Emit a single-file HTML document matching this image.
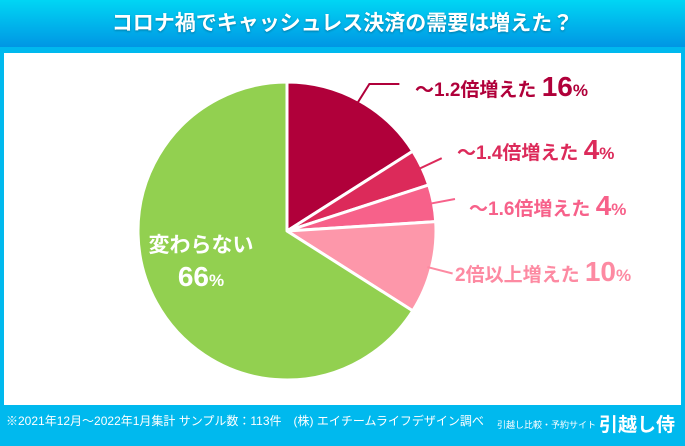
<!DOCTYPE html>
<html><head><meta charset="utf-8"><style>
body{margin:0;width:685px;height:446px;overflow:hidden;font-family:"Liberation Sans","Noto Sans CJK JP",sans-serif;}
#wrap{position:relative;width:685px;height:446px;background:#00b9ee;}
#hdr{position:absolute;left:0;top:0;width:685px;height:47px;background:linear-gradient(#00d6f4,#0096e4);color:#fff;font-weight:bold;font-size:21px;text-align:center;line-height:47px;text-shadow:0 1px 2px rgba(0,0,0,.3);}
#panel{position:absolute;left:4px;top:53px;width:677px;height:352px;background:#fff;}
#foot{position:absolute;left:6px;top:412px;color:#fff;font-size:12px;white-space:nowrap;}
#brand{position:absolute;left:497px;top:410px;color:#fff;font-size:9px;white-space:nowrap;}
#brand b{font-size:19px;margin-left:3px;vertical-align:-3px;}
</style></head><body>
<div id="wrap">
<div id="hdr">コロナ禍でキャッシュレス決済の需要は増えた？</div>
<div id="panel"></div>
<svg id="pie" width="685" height="446" style="position:absolute;left:0;top:0"></svg>
<div id="foot">※2021年12月～2022年1月集計 サンプル数：113件　(株) エイチームライフデザイン調べ</div>
<div id="brand">引越し比較・予約サイト<b>引越し侍</b></div>
</div>
<script>
const categories=["～1.2倍増えた","～1.4倍増えた","～1.6倍増えた","2倍以上増えた","変わらない"];
const values=[16,4,4,10,66];
const colors=["#b0003a","#dc2a5a","#f7618a","#fd97aa","#92d050"];
const labelColors=["#b0003a","#dc2a5a","#f7618a","#fd8aa2","#fff"];
const NS="http://www.w3.org/2000/svg";
const svg=document.getElementById('pie');
const cx=287,cy=231,r=149;
const total=values.reduce((a,b)=>a+b,0);
function pt(a,rr){return [cx+rr*Math.sin(a),cy-rr*Math.cos(a)];}
let acc=0;
const labelPos=[[415,87],[457,150],[469,206],[455,272]];
values.forEach((v,i)=>{
  const a0=acc/total*2*Math.PI;acc+=v;const a1=acc/total*2*Math.PI;
  const p0=pt(a0,r),p1=pt(a1,r);
  const path=document.createElementNS(NS,'path');
  path.setAttribute('d',`M${cx},${cy}L${p0[0]},${p0[1]}A${r},${r} 0 ${a1-a0>Math.PI?1:0} 1 ${p1[0]},${p1[1]}Z`);
  path.setAttribute('fill',colors[i]);path.setAttribute('stroke','#fff');path.setAttribute('stroke-width','3');path.setAttribute('stroke-linejoin','round');
  
  
  svg.appendChild(path);
  const am=(a0+a1)/2;
  if(i<4){
    const lp=labelPos[i];const e=pt(am,r-4),o=pt(am,r+22);
    const ln=document.createElementNS(NS,'polyline');
    const lx=i==0?o[0]+20:o[0]+8;
    ln.setAttribute('points',`${e[0]},${e[1]} ${o[0]},${i==0?lp[1]-3:o[1]} ${i==0?lx+10:o[0]},${i==0?lp[1]-3:o[1]}`);
    ln.setAttribute('fill','none');ln.setAttribute('stroke',labelColors[i]);ln.setAttribute('stroke-width','2');
    
    
    svg.appendChild(ln);
    const t=document.createElementNS(NS,'text');
    t.setAttribute('x',lp[0]);t.setAttribute('y',lp[1]+9);t.setAttribute('fill',labelColors[i]);
    t.setAttribute('font-weight','bold');t.setAttribute('font-size','19');
    
    
    t.innerHTML=categories[i]+' <tspan font-size="28">'+values[i]+'</tspan><tspan font-size="17">%</tspan>';
    svg.appendChild(t);
  } else {
    const t=document.createElementNS(NS,'text');
    t.setAttribute('x',201);t.setAttribute('y',252);t.setAttribute('fill','#fff');t.setAttribute('text-anchor','middle');
    t.setAttribute('font-weight','bold');t.setAttribute('font-size','21');
    
    
    t.textContent=categories[i];svg.appendChild(t);
    const t2=document.createElementNS(NS,'text');
    t2.setAttribute('x',201);t2.setAttribute('y',286);t2.setAttribute('fill','#fff');t2.setAttribute('text-anchor','middle');
    t2.setAttribute('font-weight','bold');t2.setAttribute('font-size','28');
    
    
    t2.innerHTML=values[i]+'<tspan font-size="17">%</tspan>';svg.appendChild(t2);
  }
});
</script>
</body></html>
